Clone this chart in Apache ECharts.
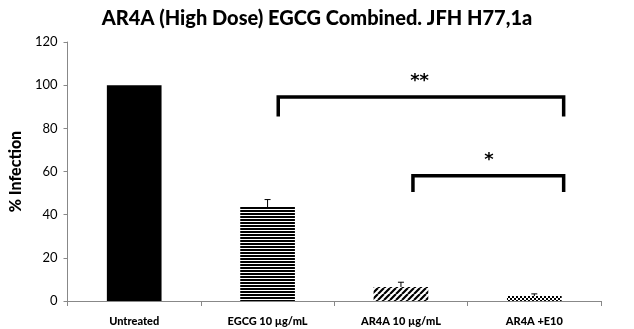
<!DOCTYPE html>
<html><head><meta charset="utf-8">
<script src="https://cdn.jsdelivr.net/npm/echarts@6/dist/echarts.min.js"></script>
<style>html,body{margin:0;padding:0;background:#fff}#c{width:634px;height:329px}</style>
</head><body><div id="c"></div>
<script>
const categories = ['Untreated', 'EGCG 10 µg/mL', 'AR4A 10 µg/mL', 'AR4A +E10'];
const values = [100, 43.5, 6.5, 2.3];
const errors = [0, 3.5, 2.2, 1.0];
const yTicks = [0, 20, 40, 60, 80, 100, 120];
// significance brackets: [xStart, xEnd, yTop, yLeg, label, labelX, labelY]
const brackets = [
  [1.08, 3.22, 94.5, 85.5, '**', 2.14, 102],
  [2.09, 3.22, 58, 50.5, '*', 2.66, 65]
];

function pat(kind){
  const c = document.createElement('canvas');
  const ctx = c.getContext('2d');
  if(kind==='h'){ c.width=4;c.height=3; ctx.fillStyle='#fff';ctx.fillRect(0,0,4,3); ctx.fillStyle='#000';ctx.fillRect(0,0,4,2); }
  else if(kind==='d'){ c.width=6;c.height=6; ctx.fillStyle='#fff';ctx.fillRect(0,0,6,6); ctx.strokeStyle='#000';ctx.lineWidth=2.2;
    ctx.beginPath(); for(let k=-6;k<=12;k+=6){ctx.moveTo(k,6);ctx.lineTo(k+6,0);} ctx.stroke(); }
  else { c.width=4;c.height=4; ctx.fillStyle='#fff';ctx.fillRect(0,0,4,4); ctx.fillStyle='#000';ctx.fillRect(0,0,2,2);ctx.fillRect(2,2,2,2); }
  return {image:c, repeat:'repeat'};
}
const colors = ['#000', pat('h'), pat('d'), pat('c')];

const chart = echarts.init(document.getElementById('c'));
const font = 'Lato, "Open Sans", sans-serif';

// x position for fractional category index
function catX(api, x){
  const i = Math.round(x);
  const band = api.size([1, 0])[0];
  return api.coord([i, 0])[0] + (x - i) * band;
}

chart.setOption({
  animation:false,
  title:{text:'AR4A (High Dose) EGCG Combined. JFH H77,1a', left:'center', top:4,
    textStyle:{fontSize:20, fontWeight:900, color:'#000', fontFamily:font}},
  grid:{left:62, right:33, top:42, bottom:28},
  xAxis:{type:'category', data:categories,
    axisLine:{lineStyle:{color:'#888'}}, axisTick:{show:true, length:5, lineStyle:{color:'#888'}},
    axisLabel:{color:'#000', fontWeight:900, fontSize:11, margin:15, fontFamily:font}},
  yAxis:{type:'value', min:0, max:120, interval:20,
    name:'% Infection', nameLocation:'middle', nameGap:37,
    nameTextStyle:{fontSize:16, fontWeight:900, color:'#000', fontFamily:font},
    axisLine:{show:true, lineStyle:{color:'#888'}}, axisTick:{show:true, length:4, lineStyle:{color:'#888'}},
    splitLine:{show:false},
    axisLabel:{color:'#000', fontSize:13, margin:10, fontFamily:font}},
  series:[
    {type:'bar', barWidth:'41%', data: values.map((v,i)=>({value:v, itemStyle:{color:colors[i]}}))},
    {type:'custom', silent:true, z:4,
     data: values.map((v,i)=>[i, v]),
     renderItem:(params, api)=>{
       const i = params.dataIndex;
       if(!(errors[i] > 0)) return {type:'group', children:[]};
       const top = api.coord([i, values[i] + errors[i]]);
       const bot = api.coord([i, values[i]]);
       return {type:'group', children:[
         {type:'line', shape:{x1:top[0],y1:top[1],x2:bot[0],y2:bot[1]}, style:{stroke:'#000',lineWidth:1}},
         {type:'line', shape:{x1:top[0]-3,y1:top[1],x2:top[0]+3,y2:top[1]}, style:{stroke:'#000',lineWidth:1}}
       ]};
     }},
    {type:'custom', silent:true, z:5,
     data: brackets.map((b,i)=>[i, b[2]]),
     renderItem:(params, api)=>{
       const b = brackets[params.dataIndex];
       const x0 = catX(api, b[0]), x1 = catX(api, b[1]);
       const yt = api.coord([0, b[2]])[1], yl = api.coord([0, b[3]])[1];
       const lx = catX(api, b[5]), ly = api.coord([0, b[6]])[1];
       return {type:'group', children:[
         {type:'polyline', shape:{points:[[x0,yl],[x0,yt],[x1,yt],[x1,yl]]},
          style:{stroke:'#000', lineWidth:3.5, fill:null, lineJoin:'miter'}},
         {type:'text', x:lx, y:ly, style:{text:b[4], fill:'#000', font:'bold 18px "DejaVu Sans"', align:'center', verticalAlign:'middle'}}
       ]};
     }}
  ]
});
</script></body></html>
